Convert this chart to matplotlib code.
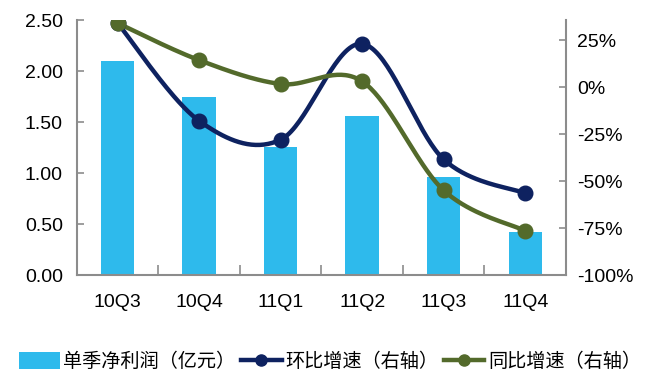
import numpy as np
import matplotlib
matplotlib.use("Agg")
import matplotlib.pyplot as plt
from matplotlib.patches import Patch
from matplotlib.lines import Line2D

plt.rcParams['font.family'] = ['Liberation Sans', 'Noto Sans CJK SC', 'DejaVu Sans']

quarters = ["10Q3", "10Q4", "11Q1", "11Q2", "11Q3", "11Q4"]
net_profit = [2.10, 1.75, 1.26, 1.56, 0.96, 0.42]          # 亿元
qoq_growth = [0.34, -0.18, -0.28, 0.23, -0.385, -0.565]    # 环比
yoy_growth = [0.34, 0.143, 0.016, 0.03, -0.55, -0.765]     # 同比

left_ticks = [0.0, 0.5, 1.0, 1.5, 2.0, 2.5]
right_ticks = [-1.0, -0.75, -0.5, -0.25, 0.0, 0.25]

BAR_C = "#2EBAEC"
NAVY = "#0E2260"
GREEN = "#536A2B"
AXIS_C = "#8C8C8C"


def smooth(xs, ys, n=40, tension=0.5):
    """Cardinal-spline curve through the points (like a spreadsheet smoothed line)."""
    xs = np.asarray(xs, float)
    ys = np.asarray(ys, float)
    px = np.concatenate([[xs[0]], xs, [xs[-1]]])
    py = np.concatenate([[ys[0]], ys, [ys[-1]]])
    ox, oy = [], []
    for i in range(1, len(px) - 2):
        p0 = np.array([px[i - 1], py[i - 1]])
        p1 = np.array([px[i], py[i]])
        p2 = np.array([px[i + 1], py[i + 1]])
        p3 = np.array([px[i + 2], py[i + 2]])
        m1 = tension * (p2 - p0)
        m2 = tension * (p3 - p1)
        t = np.linspace(0, 1, n)[:, None]
        h00 = 2 * t**3 - 3 * t**2 + 1
        h10 = t**3 - 2 * t**2 + t
        h01 = -2 * t**3 + 3 * t**2
        h11 = t**3 - t**2
        pts = h00 * p1 + h10 * m1 + h01 * p2 + h11 * m2
        ox.extend(pts[:, 0])
        oy.extend(pts[:, 1])
    return np.array(ox), np.array(oy)


fig = plt.figure(figsize=(6.57, 3.76), dpi=100)
ax = fig.add_axes([0.117, 0.2686, 0.7445, 0.6769])
ax2 = ax.twinx()

x = np.arange(len(quarters))
ax.bar(x, net_profit, width=0.41, color=BAR_C, zorder=2)
ax.set_xlim(-0.5, len(quarters) - 0.5)
ax.set_ylim(0, 2.5)
ax.set_yticks(left_ticks)
ax.set_yticklabels([f"{v:.2f}" for v in left_ticks])
ax.set_xticks(x)
ax.set_xticklabels(quarters)
ax.set_xticks(np.arange(-0.5, len(quarters)), minor=True)

for series, col in ((qoq_growth, NAVY), (yoy_growth, GREEN)):
    sx, sy = smooth(x, series)
    ax2.plot(sx, sy, color=col, lw=3.2, solid_capstyle="round", zorder=3)
    ax2.plot(x, series, ls="none", marker="o", ms=10.5, color=col, zorder=4)

ax2.set_ylim(-1.0, 0.354)
ax2.set_yticks(right_ticks)
ax2.set_yticklabels([f"{v * 100:.0f}%" for v in right_ticks])

for a in (ax, ax2):
    a.spines["top"].set_visible(False)
    for s in ("left", "right", "bottom"):
        a.spines[s].set_color(AXIS_C)
        a.spines[s].set_linewidth(1.5)
ax.spines["right"].set_visible(False)
ax2.spines["left"].set_visible(False)
ax2.spines["bottom"].set_visible(False)

ax.tick_params(axis="y", direction="in", length=5, width=1.2, color=AXIS_C,
               labelsize=14, pad=10)
ax.tick_params(axis="x", which="major", length=0, labelsize=14, pad=14)
ax.tick_params(axis="x", which="minor", direction="in", length=7, width=1.2,
               color=AXIS_C)
ax2.tick_params(axis="y", direction="in", length=5, width=1.2, color=AXIS_C,
                labelsize=14, pad=8)

handles = [
    Patch(facecolor=BAR_C, edgecolor="none"),
    Line2D([], [], color=NAVY, lw=3.2, marker="o", ms=8),
    Line2D([], [], color=GREEN, lw=3.2, marker="o", ms=8),
]
labels = ["单季净利润（亿元）", "环比增速（右轴）", "同比增速（右轴）"]
fig.legend(handles, labels, loc="lower left", bbox_to_anchor=(0.012, -0.018),
           ncol=3, frameon=False, fontsize=13.8, handlelength=2.1,
           handleheight=1.0, handletextpad=0.2, columnspacing=0.3,
           borderaxespad=0.2)

fig.savefig("out.png", dpi=100)
